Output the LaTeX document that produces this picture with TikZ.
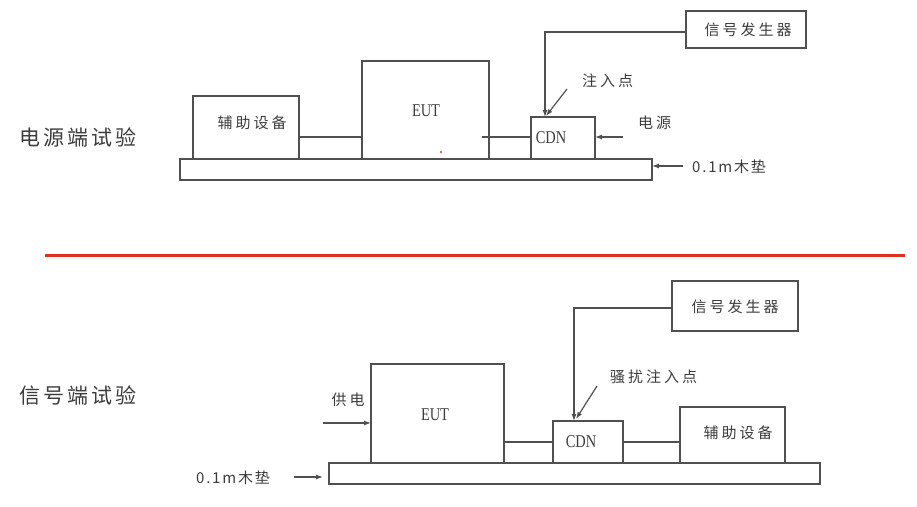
\documentclass[tikz,border=0pt]{standalone}
\usepackage{fontspec}
\usetikzlibrary{arrows.meta}
\newfontfamily\cjkf[LetterSpace=20]{Noto Sans CJK SC}
\newfontfamily\cjkn[LetterSpace=12]{Noto Sans CJK SC}
\newfontfamily\cjkt[LetterSpace=15]{Noto Sans CJK SC}
\newfontfamily\latf[FakeStretch=0.8]{Liberation Serif}
\definecolor{ln}{HTML}{505050}
\definecolor{tx}{HTML}{3C3C3C}
\definecolor{rl}{HTML}{E03020}
\tikzset{
  box/.style={draw=ln, line width=1.3pt, inner sep=0pt, outer sep=0pt, anchor=south west},
  conn/.style={draw=ln, line width=1.3pt},
  arr/.style={draw=ln, line width=1.2pt, -{Latex[length=7pt,width=5pt]}},
  cjk/.style={text=tx, font=\cjkf\fontsize{15}{15}\selectfont, inner sep=0pt},
  num/.style={text=tx, font=\cjkn\fontsize{15}{15}\selectfont, inner sep=0pt},
  lat/.style={text=tx, font=\latf\fontsize{18}{18}\selectfont, inner sep=0pt},
  ttl/.style={text=tx, font=\cjkt\fontsize{21}{21}\selectfont, inner sep=0pt},
}
\begin{document}
\begin{tikzpicture}[x=1pt,y=-1pt]
\useasboundingbox (0,0) rectangle (917,506);
% ---------- top: power port test ----------
\node[ttl] (t1) at (78,137) {电源端试验};
\node[box, minimum width=472, minimum height=21] (wood1) at (180,180) {};
\node[box, minimum width=106, minimum height=63] (aux1) at (193,159) {};
\node[cjk] (aux1t) at (252,123) {辅助设备};
\node[box, minimum width=127, minimum height=98] (eut1) at (362,159) {};
\node[lat] (eut1t) at (426,111) {EUT};
\node[box, minimum width=64, minimum height=42] (cdn1) at (531,159) {};
\node[lat] (cdn1t) at (551,138) {CDN};
\node[box, minimum width=120, minimum height=37] (sig1) at (686,48) {};
\node[cjk] (sig1t) at (748,30) {信号发生器};
\fill[rl] (441,152) circle (1.2);
\draw[conn] (aux1.east |- 0,137) -- (eut1.west |- 0,137);
\coordinate (s1) at (482,137);
\draw[conn] (s1) -- (cdn1.west |- s1);
\coordinate (c1) at (545,32);
\draw[arr] (sig1.west |- c1) -- (c1) -- (c1 |- cdn1.north);
\node[cjk, anchor=west] (inj1) at (582,81) {注入点};
\coordinate (i1) at (567,89);
\draw[arr] (i1) -- (546,116);
\node[cjk, anchor=west] (pw1) at (638,123) {电源};
\coordinate (p1) at (623,137);
\draw[arr] (p1) -- (cdn1.east |- p1);
\node[num, anchor=west] (wd1t) at (692,167) {0.1m木垫};
\coordinate (w1) at (683,166);
\draw[arr] (w1) -- (wood1.east |- w1);
% ---------- separator ----------
\coordinate (r1) at (45,255);
\coordinate (r2) at (905,255);
\draw[rl, line width=3pt] (r1) -- (r2);
% ---------- bottom: signal port test ----------
\node[ttl] (t2) at (78,395) {信号端试验};
\node[box, minimum width=491, minimum height=21] (wood2) at (329,484) {};
\node[box, minimum width=133, minimum height=99] (eut2) at (371,463) {};
\node[lat] (eut2t) at (435,415) {EUT};
\node[box, minimum width=70, minimum height=42] (cdn2) at (553,463) {};
\node[lat] (cdn2t) at (581,442) {CDN};
\node[box, minimum width=105, minimum height=56] (aux2) at (680,463) {};
\node[cjk] (aux2t) at (738,433) {辅助设备};
\node[box, minimum width=126, minimum height=50] (sig2) at (672,331) {};
\node[cjk] (sig2t) at (735,307) {信号发生器};
\draw[conn] (eut2.east |- 0,442) -- (cdn2.west |- 0,442);
\draw[conn] (cdn2.east |- 0,442) -- (aux2.west |- 0,442);
\coordinate (c2) at (574,308);
\draw[arr] (sig2.west |- c2) -- (c2) -- (c2 |- cdn2.north);
\node[cjk, anchor=west] (inj2) at (610,377) {骚扰注入点};
\coordinate (i2) at (597,386);
\draw[arr] (i2) -- (576,419);
\node[cjk] (pw2t) at (348,400) {供电};
\coordinate (p2) at (323,423);
\draw[arr] (p2) -- (eut2.west |- p2);
\node[num] (wd2t) at (233,478) {0.1m木垫};
\coordinate (w2) at (294,477);
\draw[arr] (w2) -- ([xshift=-6pt]wood2.west |- w2);
\end{tikzpicture}
\end{document}
